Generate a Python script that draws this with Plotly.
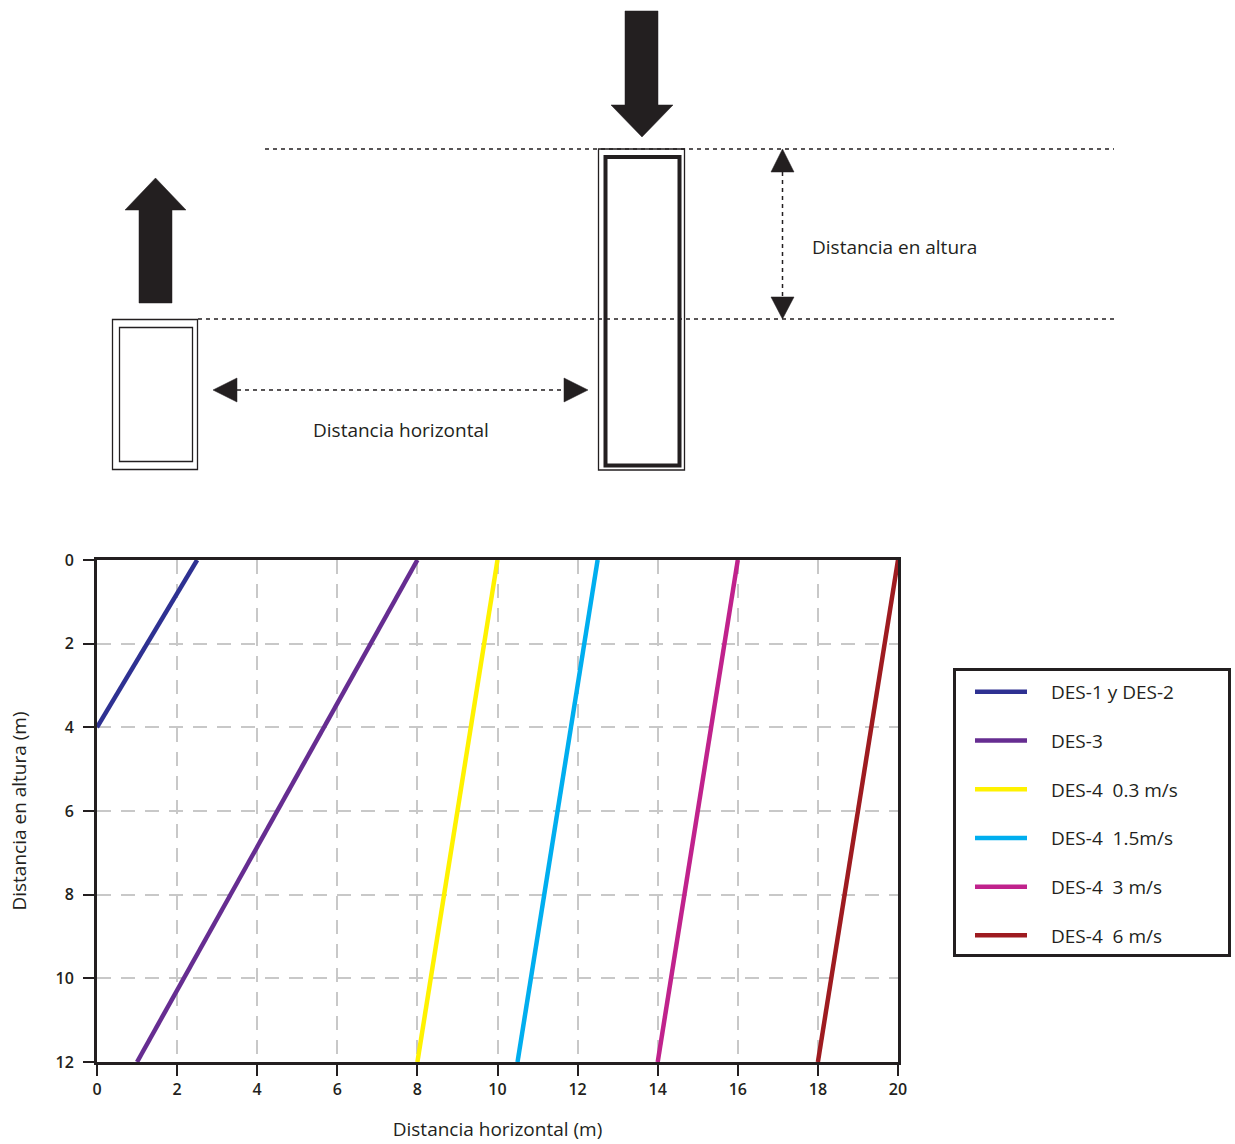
import plotly.graph_objects as go

W, H = 1235, 1144
INK = "#231f20"
FONT = "Open Sans"
PAD = "\u2002\u2002"  # visual gap between legend line sample and label, as in the original

# ---- data ----
series_names = ["DES-1 y DES-2", "DES-3", "DES-4\u00a0 0.3 m/s", "DES-4\u00a0 1.5m/s",
                "DES-4\u00a0 3 m/s", "DES-4\u00a0 6 m/s"]
series_colors = ["#2e3192", "#662d91", "#fff200", "#00aeef", "#c0228c", "#9e1b20"]
des12_x = [0, 2.5]
des12_y = [4, 0]
des3_x = [1, 8]
des3_y = [12, 0]
v03_x = [8, 10]
v15_x = [10.5, 12.5]
v3_x = [14, 16]
v6_x = [18, 20]
des4_y = [12, 0]
x_ticks = [0, 2, 4, 6, 8, 10, 12, 14, 16, 18, 20]
y_ticks = [0, 2, 4, 6, 8, 10, 12]

series_x = [des12_x, des3_x, v03_x, v15_x, v3_x, v6_x]
series_y = [des12_y, des3_y, des4_y, des4_y, des4_y, des4_y]

fig = go.Figure()
for i, (name, color, xs, ys) in enumerate(zip(series_names, series_colors, series_x, series_y)):
    fig.add_trace(go.Scatter(x=xs, y=ys, mode="lines", name=PAD + name, legendgroup=f"g{i}",
                             line=dict(color=color, width=4.5)))

# helper: pixel -> paper (margins are zero so paper == full figure)
def px(x):
    return x / W

def py(y):
    return 1 - y / H

shapes = []

def rect(x0, y0, x1, y1, w):
    shapes.append(dict(type="rect", xref="paper", yref="paper", x0=px(x0), x1=px(x1),
                       y0=py(y0), y1=py(y1), line=dict(color=INK, width=w),
                       fillcolor="rgba(0,0,0,0)", layer="above"))

def poly(points):
    d = "M " + " L ".join(f"{px(a):.6f},{py(b):.6f}" for a, b in points) + " Z"
    shapes.append(dict(type="path", xref="paper", yref="paper", path=d,
                       fillcolor=INK, line=dict(color=INK, width=0.5), layer="above"))

def dotted(x0, y0, x1, y1):
    shapes.append(dict(type="line", xref="paper", yref="paper", x0=px(x0), x1=px(x1),
                       y0=py(y0), y1=py(y1), line=dict(color=INK, width=1.5, dash="4px,4px"),
                       layer="above"))

# buildings
rect(112.5, 319.5, 197.5, 469.5, 1.3)
rect(119.5, 327.5, 192.5, 461.5, 1.3)
rect(598.5, 149, 684.5, 470, 1.3)
rect(605.5, 157, 679.5, 465.5, 4)

# big arrows
poly([(139, 303), (139, 210), (125, 210), (155.5, 178), (186, 210), (172, 210), (172, 303)])
poly([(625, 11), (658, 11), (658, 105), (673, 105), (642, 137), (611, 105), (625, 105)])

# dotted reference lines
dotted(265, 149, 1114, 149)
dotted(198, 319, 1114, 319)

# vertical dimension arrow
dotted(782.5, 172, 782.5, 297)
poly([(782.5, 149), (794, 172), (771, 172)])
poly([(782.5, 319), (771, 297), (794, 297)])

# horizontal dimension arrow
dotted(237, 390, 564, 390)
poly([(213, 390), (237, 378), (237, 402)])
poly([(588, 390), (564, 378), (564, 402)])

annotations = [
    dict(text="Distancia en altura", xref="paper", yref="paper", x=px(810), y=py(247),
         xanchor="left", yanchor="middle", showarrow=False,
         font=dict(family=FONT, size=19, color=INK)),
    dict(text="Distancia horizontal", xref="paper", yref="paper", x=px(401), y=py(430),
         xanchor="center", yanchor="middle", showarrow=False,
         font=dict(family=FONT, size=19, color=INK)),
]

# legend frame
shapes.append(dict(type="rect", xref="paper", yref="paper", x0=px(954.5), x1=px(1229.5),
                   y0=py(669.5), y1=py(955.5), line=dict(color=INK, width=3),
                   fillcolor="rgba(0,0,0,0)", layer="above"))

axis_common = dict(showline=True, mirror=True, linewidth=3, linecolor=INK,
                   ticks="outside", ticklen=11, tickwidth=2, tickcolor=INK,
                   showgrid=True, gridcolor="#c8c8c8", gridwidth=1.5, griddash="14px,10px",
                   zeroline=False, automargin=False,
                   tickfont=dict(family=FONT, size=16, color=INK, weight=600))

fig.update_layout(
    width=W, height=H,
    margin=dict(l=0, r=0, t=0, b=0),
    paper_bgcolor="white", plot_bgcolor="white",
    font=dict(family=FONT, color=INK),
    xaxis=dict(domain=[px(97), px(898)], range=[0, 20], tickvals=x_ticks,
               title=dict(text="Distancia horizontal (m)", standoff=24,
                          font=dict(family=FONT, size=19, color=INK)),
               ticklabelstandoff=0, **axis_common),
    yaxis=dict(domain=[py(1062), py(560)], range=[12, 0], tickvals=y_ticks,
               title=dict(text="Distancia en altura (m)", standoff=24,
                          font=dict(family=FONT, size=19, color=INK)),
               ticklabelstandoff=6, **axis_common),
    legend=dict(x=px(970), y=py(673), xanchor="left", yanchor="top",
                bgcolor="rgba(0,0,0,0)", borderwidth=0,
                font=dict(family=FONT, size=19, color=INK),
                tracegroupgap=21, itemwidth=52, entrywidth=240),
    shapes=shapes,
    annotations=annotations,
    showlegend=True,
)

fig.write_html("out.html", config={"displayModeBar": False},
               post_script="document.body.style.margin='0';document.body.style.padding='0';")
